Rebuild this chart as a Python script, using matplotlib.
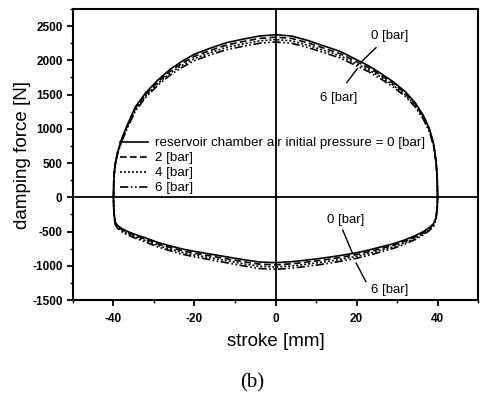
import matplotlib
matplotlib.use("Agg")
import matplotlib.pyplot as plt
from matplotlib.ticker import MultipleLocator

plt.rcParams['font.family'] = ['Liberation Sans', 'DejaVu Sans']
plt.rcParams['axes.unicode_minus'] = False

# stroke positions [mm], upper branch goes -40 -> 40, lower branch 40 -> -40
stroke_up = [-40, -39.9, -39.6, -39.0, -38.0, -36.5, -34.5, -32, -29, -26, -23, -20, -16, -12, -8, -4,
             0, 4, 8, 12, 16, 20, 23, 26, 29, 32, 34.5, 36.5, 38.0, 39.0, 39.6, 39.9, 40]
stroke_low = [40, 39.9, 39.6, 39.0, 38.0, 36.5, 34.5, 32, 29, 26, 23, 20, 16, 12, 8, 4,
              0, -4, -8, -12, -16, -20, -23, -26, -29, -32, -34.5, -36.5, -38.0, -39.0, -39.6, -39.9, -40]

# damping force [N] for each reservoir air initial pressure
up_0bar = [0, 300, 480, 660, 850, 1070, 1330, 1530, 1715, 1870, 1990, 2090, 2180, 2260, 2310, 2355,
           2375, 2355, 2290, 2210, 2130, 2010, 1920, 1810, 1690, 1545, 1380, 1195, 1000, 790, 540, 300, 0]
up_2bar = [0, 296, 473, 650, 837, 1054, 1310, 1507, 1689, 1842, 1960, 2059, 2147, 2226, 2275, 2320,
           2339, 2320, 2256, 2177, 2098, 1980, 1891, 1783, 1665, 1522, 1359, 1177, 985, 778, 532, 296, 0]
up_4bar = [0, 291, 466, 640, 825, 1038, 1290, 1484, 1664, 1814, 1930, 2027, 2115, 2192, 2241, 2284,
           2304, 2284, 2221, 2144, 2066, 1950, 1862, 1756, 1639, 1499, 1339, 1159, 970, 766, 524, 291, 0]
up_6bar = [0, 287, 458, 630, 812, 1022, 1270, 1461, 1638, 1786, 1900, 1996, 2082, 2158, 2206, 2249,
           2268, 2249, 2187, 2111, 2034, 1920, 1834, 1729, 1614, 1475, 1318, 1141, 955, 754, 516, 287, 0]

low_0bar = [0, -150, -300, -385, -440, -500, -560, -620, -680, -725, -770, -810, -850, -885, -915, -940,
            -955, -945, -910, -870, -830, -790, -755, -710, -660, -595, -545, -500, -455, -410, -360, -200, 0]
low_2bar = [0, -155, -310, -398, -455, -517, -578, -640, -702, -749, -795, -837, -878, -914, -945, -971,
            -987, -976, -940, -899, -857, -816, -780, -733, -682, -615, -563, -517, -470, -424, -372, -207, 0]
low_4bar = [0, -160, -320, -410, -469, -533, -597, -661, -725, -773, -821, -863, -906, -943, -975, -1002,
            -1018, -1007, -970, -927, -885, -842, -805, -757, -704, -634, -581, -533, -485, -437, -384, -213, 0]
low_6bar = [0, -165, -330, -424, -484, -550, -616, -682, -748, -798, -847, -891, -935, -974, -1007, -1034,
            -1051, -1040, -1001, -957, -913, -869, -831, -781, -726, -655, -600, -550, -501, -451, -396, -220, 0]

labels = ['reservoir chamber air initial pressure = 0 [bar]', '2 [bar]', '4 [bar]', '6 [bar]']
styles = ['-', (0, (4, 2)), (0, (1.2, 1.2)), (0, (5, 1.5, 1, 1.5, 1, 1.5))]
ups = [up_0bar, up_2bar, up_4bar, up_6bar]
lows = [low_0bar, low_2bar, low_4bar, low_6bar]

fig = plt.figure(figsize=(4.8, 3.97), dpi=100)
ax = fig.add_axes([0.152, 0.2443, 0.844, 0.733])

for lab, ls, u, l in zip(labels, styles, ups, lows):
    ax.plot(stroke_up + stroke_low, u + l, color='black', linestyle=ls, linewidth=1.2, label=lab)

ax.axhline(0, color='black', linewidth=1.3)
ax.axvline(0, color='black', linewidth=1.3)

ax.set_xlim(-50, 50)
ax.set_ylim(-1500, 2750)
ax.xaxis.set_major_locator(MultipleLocator(20))
ax.xaxis.set_minor_locator(MultipleLocator(10))
ax.yaxis.set_major_locator(MultipleLocator(500))
ax.yaxis.set_minor_locator(MultipleLocator(250))
ax.tick_params(which='major', direction='out', length=4, width=1.3, labelsize=8.5)
ax.tick_params(axis='x', which='major', pad=5)
ax.tick_params(which='minor', direction='out', length=2.5, width=1.0)
for lbl in ax.get_xticklabels() + ax.get_yticklabels():
    lbl.set_fontweight('bold')
for sp in ax.spines.values():
    sp.set_linewidth(1.5)

ax.set_xlabel('stroke [mm]', fontsize=13.5, labelpad=6)
ax.set_ylabel('damping force [N]', fontsize=13.5, labelpad=1)

ax.legend(loc='upper left', bbox_to_anchor=(0.116, 0.56), frameon=False, fontsize=9.6,
          handlelength=2.1, handletextpad=0.5, labelspacing=0.2, borderpad=0, borderaxespad=0)

# annotations: upper branch
ax.text(28.3, 2355, '0 [bar]', fontsize=9.5, ha='center', va='center')
ax.plot([24.8, 21.3], [2185, 1985], color='black', linewidth=1.0)
ax.text(15.5, 1453, '6 [bar]', fontsize=9.5, ha='center', va='center')
ax.plot([20.2, 17.6], [1880, 1676], color='black', linewidth=1.0)
# annotations: lower branch
ax.text(17.4, -334, '0 [bar]', fontsize=9.5, ha='center', va='center')
ax.plot([16.6, 19.0], [-480, -818], color='black', linewidth=1.0)
ax.text(28.3, -1352, '6 [bar]', fontsize=9.5, ha='center', va='center')
ax.plot([19.9, 22.3], [-960, -1231], color='black', linewidth=1.0)

fig.text(0.525, 0.035, '(b)', fontsize=15, ha='center', va='center',
         family=['Liberation Serif', 'DejaVu Serif'])

fig.savefig('out.png', dpi=100)
